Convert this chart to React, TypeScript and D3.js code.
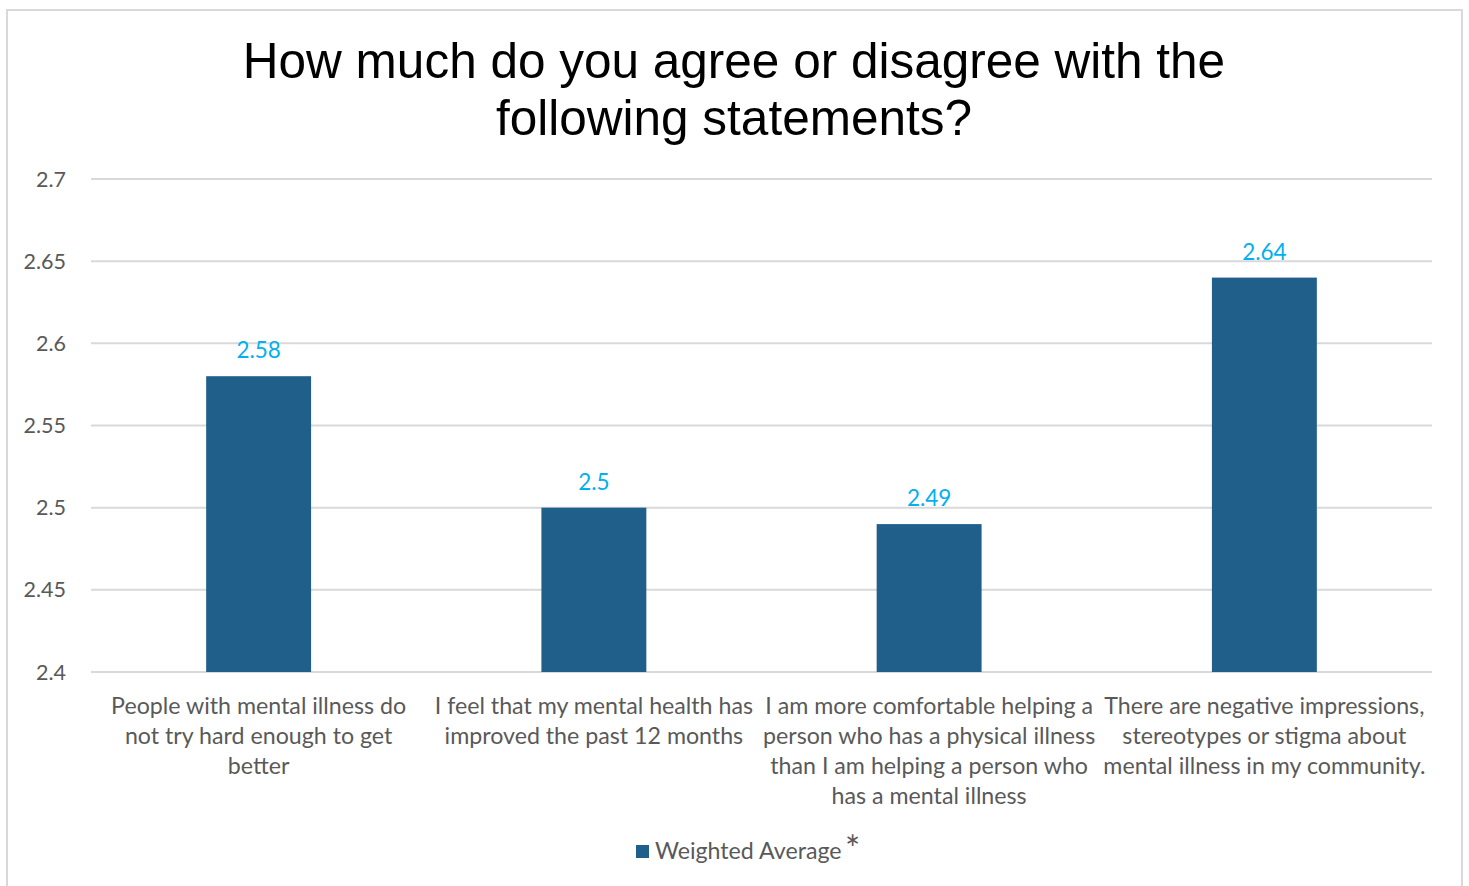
import React from "react";
import * as d3 from "d3";

const categories: string[][] = [
  ["People with mental illness do", "not try hard enough to get", "better"],
  ["I feel that my mental health has", "improved the past 12 months"],
  ["I am more comfortable helping a", "person who has a physical illness", "than I am helping a person who", "has a mental illness"],
  ["There are negative impressions,", "stereotypes or stigma about", "mental illness in my community."],
];
const values: number[] = [2.58, 2.5, 2.49, 2.64];
const yTicks: number[] = [2.4, 2.45, 2.5, 2.55, 2.6, 2.65, 2.7];
const titleLines: string[] = ["How much do you agree or disagree with the", "following statements?"];
const seriesName = "Weighted Average";

const W = 1469;
const H = 886;
const left = 91;
const right = 1432;
const top = 179;
const bottom = 672;
const barColor = "#215f8b";
const labelColor = "#00b0f0";
const textGray = "#595959";
const font = "Lato, 'Open Sans', sans-serif";

export default function App() {
  const x = d3
    .scaleBand<number>()
    .domain(values.map((_, i) => i))
    .range([left, right])
    .paddingInner(0.687)
    .paddingOuter(0.3435);
  const y = d3.scaleLinear().domain([2.4, 2.7]).range([bottom, top]);
  const band = (right - left) / values.length;

  return (
    <svg width={W} height={H} style={{ position: "absolute", left: 0, top: 0 }}>
      <rect x={0} y={0} width={W} height={H} fill="#fff" />
      <rect x={7} y={10} width={1455} height={H} fill="none" stroke="#d9d9d9" strokeWidth={2} />
      {titleLines.map((t, i) => (
        <text key={i} x={734} y={78 + i * 57} textAnchor="middle" fontFamily="'Liberation Sans', Arial, sans-serif" fontSize={49.5} fill="#000">
          {t}
        </text>
      ))}
      {yTicks.map((t) => (
        <g key={t}>
          <line x1={left} x2={right} y1={y(t)} y2={y(t)} stroke="#d9d9d9" strokeWidth={2} />
          <text x={66} y={y(t) + 7.5} textAnchor="end" fontFamily={font} fontSize={21.5} fill={textGray}>
            {d3.format("")(+t.toFixed(2))}
          </text>
        </g>
      ))}
      {values.map((v, i) => {
        const bx = x(i)!;
        const cx = bx + x.bandwidth() / 2;
        return (
          <g key={i}>
            <rect x={bx} y={y(v)} width={x.bandwidth()} height={y(2.4) - y(v)} fill={barColor} />
            <text x={cx} y={y(v) - 18} textAnchor="middle" fontFamily={font} fontSize={22.5} fill={labelColor}>
              {String(v)}
            </text>
          </g>
        );
      })}
      {categories.map((lines, i) => {
        const cx = left + band * (i + 0.5);
        return lines.map((ln, j) => (
          <text key={i + "-" + j} x={cx} y={714 + j * 30} textAnchor="middle" fontFamily={font} fontSize={23.2} fill={textGray}>
            {ln}
          </text>
        ));
      })}
      <rect x={636} y={845} width={13} height={13} fill={barColor} />
      <text x={655} y={859} fontFamily={font} fontSize={23.2} fill={textGray}>
        {seriesName}
      </text>
      <text x={845} y={862} fontFamily={font} fontSize={36} fill={textGray}>
        *
      </text>
    </svg>
  );
}
